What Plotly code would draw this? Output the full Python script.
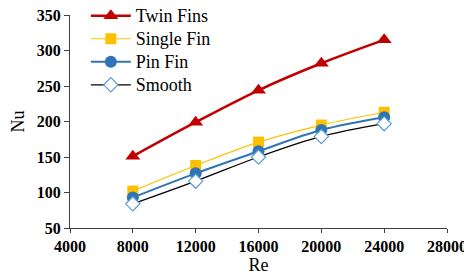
import plotly.graph_objects as go

re_values = [8000, 12000, 16000, 20000, 24000]
twin_fins = [151, 199, 244, 282, 315]
single_fin = [102, 138, 171, 195, 213]
pin_fin = [93, 127, 158, 188, 206]
smooth = [84, 116, 150, 179, 197]
series_names = ['Twin Fins', 'Single Fin', 'Pin Fin', 'Smooth']

font_family = 'Times New Roman, Liberation Serif, serif'


def legend_label(text):
    # bigger text than the legend font, so rows stay as tight as Excel's
    return f'<span style="font-size:18px">{text}</span>'


fig = go.Figure()
fig.add_trace(go.Scatter(
    x=re_values, y=twin_fins, name=legend_label(series_names[0]), mode='lines+markers',
    line=dict(color='#C00000', width=2.5, shape='spline'),
    marker=dict(symbol='triangle-up', size=13, color='#C00000')
))
fig.add_trace(go.Scatter(
    x=re_values, y=single_fin, name=legend_label(series_names[1]), mode='lines+markers',
    line=dict(color='#FFC000', width=1.2, shape='spline'),
    marker=dict(symbol='square', size=11, color='#FFC000')
))
fig.add_trace(go.Scatter(
    x=re_values, y=pin_fin, name=legend_label(series_names[2]), mode='lines+markers',
    line=dict(color='#2E75B6', width=2, shape='spline'),
    marker=dict(symbol='circle', size=12, color='#2E75B6')
))
fig.add_trace(go.Scatter(
    x=re_values, y=smooth, name=legend_label(series_names[3]), mode='lines+markers',
    line=dict(color='#000000', width=1.3, shape='spline'),
    marker=dict(symbol='diamond', size=11, color='#FFFFFF',
                line=dict(color='#5B9BD5', width=1.2))
))

# page has an 8px body margin, so the figure is drawn 8px in from the corner
fig.update_layout(
    width=464,
    height=269,
    margin=dict(l=62, r=25, t=7, b=49, autoexpand=False),
    plot_bgcolor='#ffffff',
    paper_bgcolor='#ffffff',
    font=dict(family=font_family, color='#000000'),
    legend=dict(
        x=0.042, y=1.074, xanchor='left', yanchor='top',
        bgcolor='rgba(0,0,0,0)',
        font=dict(size=15.4, family=font_family),
        tracegroupgap=0,
        itemwidth=40
    ),
    showlegend=True
)
fig.update_xaxes(
    range=[4000, 28000], dtick=4000, tick0=4000, tickformat='d',
    showgrid=False, zeroline=False,
    showline=True, linecolor='#404040', linewidth=1,
    ticks='outside', ticklen=4, tickcolor='#404040',
    tickfont=dict(size=16, family=font_family, weight='bold'),
    title=dict(text='Re', font=dict(size=18, family=font_family), standoff=2)
)
fig.update_yaxes(
    range=[50, 350], dtick=50,
    showgrid=False, zeroline=False,
    showline=True, linecolor='#404040', linewidth=1,
    ticks='outside', ticklen=5, tickcolor='#404040',
    ticklabeloverflow='allow',
    tickfont=dict(size=16, family=font_family, weight='bold'),
    title=dict(text='Nu', font=dict(size=18, family=font_family), standoff=8)
)

fig.write_html("out.html")
